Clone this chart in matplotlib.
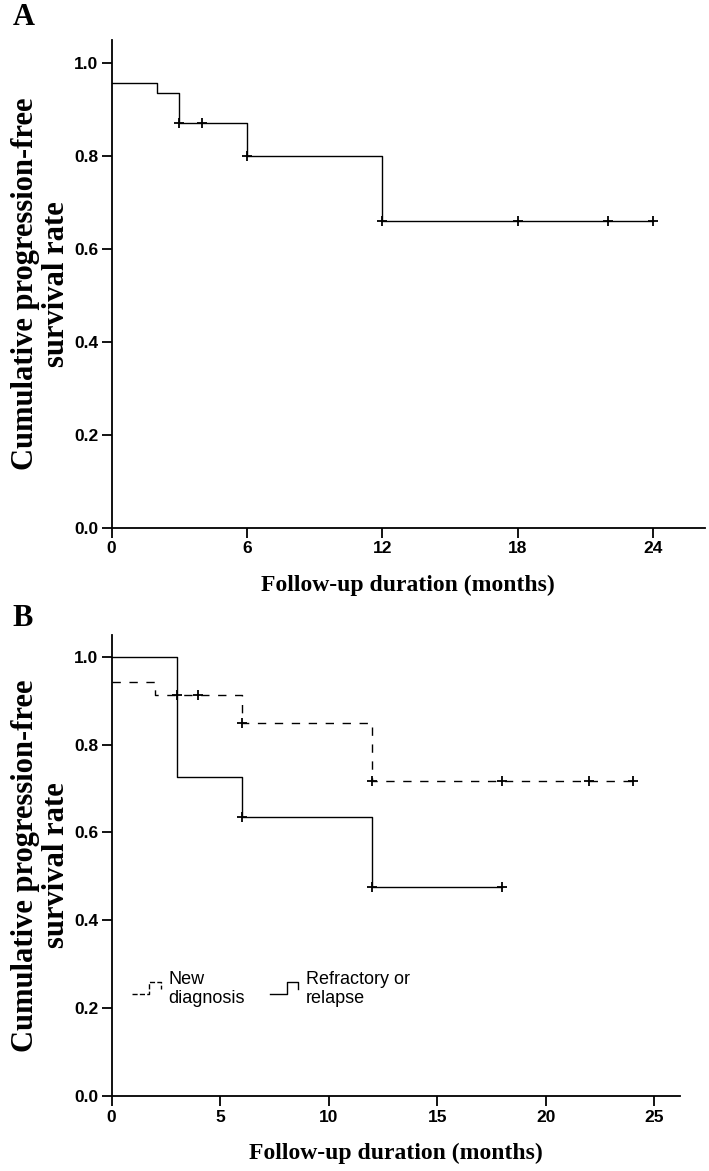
import numpy as np
import matplotlib
matplotlib.use("Agg")
import matplotlib.pyplot as plt
from matplotlib.lines import Line2D
from matplotlib.legend_handler import HandlerLine2D

# panel A: all patients
a_times = [0, 2, 3, 6, 12]
a_surv = [0.957, 0.935, 0.870, 0.800, 0.660]
a_end = 24
a_cens = [3, 4, 6, 12, 18, 22, 24]

# panel B: new diagnosis (dashed) vs refractory or relapse (solid)
new_times = [0, 2, 6, 12]
new_surv = [0.943, 0.914, 0.850, 0.717]
new_end = 24
new_cens = [3, 4, 6, 12, 18, 22, 24]

ref_times = [0, 3, 6, 12]
ref_surv = [1.0, 0.727, 0.636, 0.477]
ref_end = 18
ref_cens = [6, 12, 18]

a_xticks = [0, 6, 12, 18, 24]
b_xticks = [0, 5, 10, 15, 20, 25]
yticks = [0.0, 0.2, 0.4, 0.6, 0.8, 1.0]

plt.rcParams['lines.scale_dashes'] = False

serif = 'Liberation Serif'
sans = 'Liberation Sans'
dash = (0, (6, 6.2))


def km(ax, times, surv, end, cens, ls):
    t = list(times) + [end]
    s = list(surv) + [surv[-1]]
    ax.step(t, s, where='post', color='black', lw=1.0, linestyle=ls)
    idx = np.searchsorted(times, cens, side='right') - 1
    cy = np.array(surv)[idx]
    ax.plot(cens, cy, linestyle='none', marker='+', ms=7.5, mew=1.3, color='black')


def style(ax, xticks, xmax):
    ax.set_xlim(0, xmax)
    ax.set_ylim(0, 1.05)
    ax.set_xticks(xticks)
    ax.set_yticks(yticks)
    ax.set_yticklabels(['%.1f' % v for v in yticks])
    for s in ['top', 'right']:
        ax.spines[s].set_visible(False)
    for s in ['left', 'bottom']:
        ax.spines[s].set_linewidth(1.3)
    ax.tick_params(direction='out', length=7, width=1.3, labelsize=12.5)
    ax.tick_params(axis='x', pad=3)
    ax.tick_params(axis='y', pad=2.5)
    for lab in ax.get_xticklabels() + ax.get_yticklabels():
        lab.set_fontfamily(sans)
        lab.set_fontweight('bold')
    ax.set_xlabel('Follow-up duration (months)', family=serif, weight='bold',
                  fontsize=17, labelpad=13)
    ax.set_ylabel('Cumulative progression-free\nsurvival rate', family=serif,
                  weight='bold', fontsize=22, labelpad=2, linespacing=1.12)


class StepHandler(HandlerLine2D):
    def create_artists(self, legend, orig_handle, xdescent, ydescent,
                       width, height, fontsize, trans):
        xs = np.array([0.0, 0.55, 0.55, 0.9, 0.9]) * width - xdescent
        ys = np.array([0.1, 0.1, 1.1, 1.1, 0.5]) * height - ydescent
        ln = Line2D(xs, ys, color='black', lw=1.0,
                    linestyle=orig_handle.get_linestyle())
        ln.set_transform(trans)
        return [ln]


fig = plt.figure(figsize=(7.09, 11.71), dpi=100)
axA = fig.add_axes([0.1575, 0.5495, 0.8364, 0.4165])
axB = fig.add_axes([0.1575, 0.0640, 0.802, 0.3939])

km(axA, a_times, a_surv, a_end, a_cens, '-')
style(axA, a_xticks, 26.3)

km(axB, new_times, new_surv, new_end, new_cens, dash)
km(axB, ref_times, ref_surv, ref_end, ref_cens, '-')
style(axB, b_xticks, 26.2)

h_new = Line2D([], [], color='black', lw=1.0, linestyle=(0, (3, 3)))
h_ref = Line2D([], [], color='black', lw=1.0, linestyle='-')
axB.legend([h_new, h_ref], ['New\ndiagnosis', 'Refractory or\nrelapse'],
           loc='center left', bbox_to_anchor=(0.02, 0.232), ncol=2,
           frameon=False, borderpad=0, handlelength=1.75, handletextpad=0.25,
           columnspacing=1.4, prop={'family': sans, 'size': 13},
           handler_map={Line2D: StepHandler()})

fig.text(0.018, 0.985, 'A', family=serif, weight='bold', fontsize=22, va='center')
fig.text(0.018, 0.472, 'B', family=serif, weight='bold', fontsize=22, va='center')

fig.savefig('out.png', dpi=100)
